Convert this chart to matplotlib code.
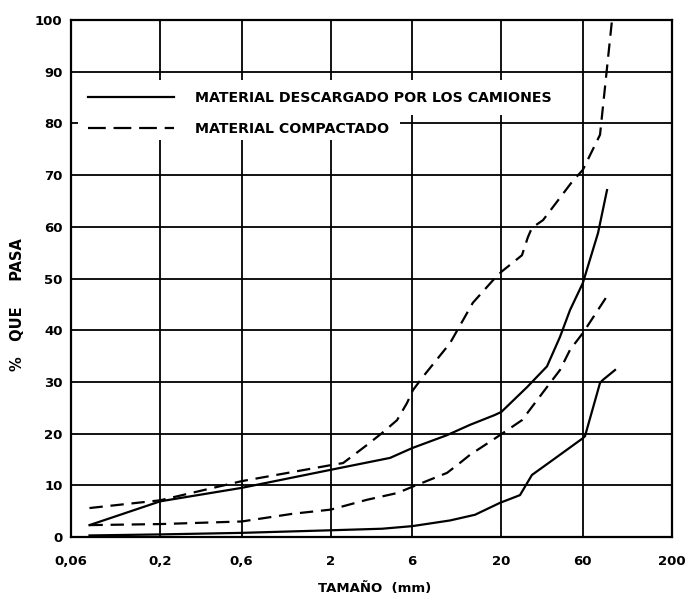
import matplotlib
matplotlib.use("Agg")
import matplotlib.pyplot as plt
from matplotlib.lines import Line2D
from matplotlib.patches import Rectangle
from matplotlib.ticker import FixedLocator, FixedFormatter, NullLocator

# ---- data ----
# Material descargado por los camiones (solid) - upper and lower limits
desc_upper_size = [0.077, 0.2, 0.6, 2, 4.45, 6, 9.6, 13.1, 18.3, 20, 28.3, 37, 44.1, 50.5, 60, 73.7, 83.2]
desc_upper_pass = [2.3, 6.9, 9.5, 13.0, 15.3, 17.2, 19.7, 21.7, 23.6, 24.2, 29.0, 33.0, 38.7, 43.9, 49.1, 58.8, 67.1]

desc_lower_size = [0.077, 0.2, 0.6, 2, 4, 6, 10, 14, 19.6, 25.7, 30.2, 42.4, 60, 61.8, 75.7, 78.8, 92.7]
desc_lower_pass = [0.3, 0.5, 0.8, 1.3, 1.6, 2.1, 3.2, 4.3, 6.6, 8.1, 12.0, 15.5, 19.1, 19.5, 29.8, 30.4, 32.3]

# Material compactado (dashed) - upper and lower limits
comp_upper_size = [0.077, 0.2, 0.6, 2, 2.36, 3.26, 3.99, 4.89, 5.59, 6.06, 6.94, 10.0, 13.6, 17.9, 20,
                   26.4, 28.6, 30.2, 35.1, 51.9, 60, 75.7, 89]
comp_upper_pass = [5.6, 7.1, 10.8, 13.9, 14.3, 17.8, 20.1, 22.6, 25.9, 28.4, 31.0, 37.5, 45.3, 49.7, 51.3,
                   54.5, 58.0, 59.8, 61.3, 68.7, 71.0, 77.8, 100]

comp_lower_size = [0.077, 0.2, 0.6, 1.2, 2, 3.26, 4.9, 6, 9.6, 11.4, 13.1, 18.8, 26.4, 37, 44.1, 50.5, 60.2, 84]
comp_lower_pass = [2.3, 2.5, 3.0, 4.5, 5.3, 7.2, 8.5, 9.7, 12.4, 14.3, 15.9, 19.3, 22.6, 29.0, 32.3, 36.2, 39.5, 46.8]

x_ticks = [0.06, 0.2, 0.6, 2, 6, 20, 60, 200]
x_tick_labels = ["0,06", "0,2", "0,6", "2", "6", "20", "60", "200"]
y_ticks = [0, 10, 20, 30, 40, 50, 60, 70, 80, 90, 100]
y_tick_labels = [str(v) for v in y_ticks]

legend_labels = ["MATERIAL DESCARGADO POR LOS CAMIONES", "MATERIAL COMPACTADO"]

# ---- figure ----
plt.rcParams['font.family'] = ['DejaVu Sans']
fig = plt.figure(figsize=(6.9, 5.99), dpi=100)
ax = fig.add_axes([71 / 690, 1 - 537 / 599, 601 / 690, 517 / 599])

dash = (0, (6, 3.5))
lw = 1.6
ax.plot(desc_upper_size, desc_upper_pass, color='black', lw=lw, zorder=3, solid_joinstyle='round')
ax.plot(desc_lower_size, desc_lower_pass, color='black', lw=lw, zorder=3, solid_joinstyle='round')
ax.plot(comp_upper_size, comp_upper_pass, color='black', lw=lw, ls=dash, zorder=3)
ax.plot(comp_lower_size, comp_lower_pass, color='black', lw=lw, ls=dash, zorder=3)

ax.set_xscale('log')
ax.set_xlim(0.06, 200)
ax.set_ylim(0, 100)
ax.xaxis.set_major_locator(FixedLocator(x_ticks))
ax.xaxis.set_major_formatter(FixedFormatter(x_tick_labels))
ax.xaxis.set_minor_locator(NullLocator())
ax.set_yticks(y_ticks)
ax.set_yticklabels(y_tick_labels)
ax.tick_params(axis='both', length=0, labelsize=9.5)
ax.tick_params(axis='x', pad=13)
ax.tick_params(axis='y', pad=6)
for lab in ax.get_xticklabels() + ax.get_yticklabels():
    lab.set_fontweight('bold')

ax.grid(True, which='major', color='black', lw=1.3)
for s in ax.spines.values():
    s.set_linewidth(1.6)

ax.set_xlabel("TAMAÑO  (mm)", fontsize=9.5, fontweight='bold')
ax.xaxis.set_label_coords(0.506, -0.088)
ax.set_ylabel("%   QUE     PASA", fontsize=10.5, fontweight='bold')
ax.yaxis.set_label_coords(-0.077, 0.449)

# white areas behind the legend text (grid is interrupted there)
ax.add_patch(Rectangle((0.012, 0.816), 0.802, 0.068, transform=ax.transAxes,
                       facecolor='white', edgecolor='none', zorder=2.5))
ax.add_patch(Rectangle((0.012, 0.768), 0.535, 0.050, transform=ax.transAxes,
                       facecolor='white', edgecolor='none', zorder=2.5))

handles = [Line2D([], [], color='black', lw=lw),
           Line2D([], [], color='black', lw=lw, ls=(0, (8, 3.5)))]
leg = ax.legend(handles, legend_labels, loc='upper left', bbox_to_anchor=(0.028, 0.862),
                frameon=False, borderpad=0, borderaxespad=0, handlelength=6.1,
                handletextpad=1.44, labelspacing=1.2,
                prop={'size': 10.2, 'weight': 'bold'})
leg.set_zorder(4)

fig.savefig("out.png", dpi=100)
